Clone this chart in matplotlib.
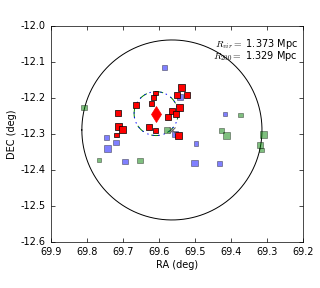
import matplotlib
matplotlib.use("Agg")
import matplotlib.pyplot as plt
import numpy as np

plt.style.use("classic")
plt.rcParams['mathtext.fontset'] = 'cm'
plt.rcParams['font.family'] = ['DejaVu Sans']

# Red members
red_ra = [69.538, 69.551, 69.521, 69.610, 69.616, 69.664, 69.620, 69.715, 69.544,
          69.565, 69.553, 69.576, 69.628, 69.610, 69.547, 69.711, 69.701, 69.718]
red_dec = [-12.170, -12.193, -12.191, -12.186, -12.198, -12.219, -12.216, -12.241, -12.226,
           -12.237, -12.244, -12.254, -12.280, -12.291, -12.305, -12.280, -12.287, -12.303]
red_size = [7, 6, 6, 4.5, 5, 6, 5, 6, 7, 6, 6, 6, 6, 5, 7, 7, 7, 4.5]

# Blue
blue_ra = [69.584, 69.542, 69.556, 69.417, 69.745, 69.719, 69.743, 69.694, 69.501, 69.433, 69.497]
blue_dec = [-12.115, -12.198, -12.300, -12.244, -12.310, -12.324, -12.341, -12.376, -12.381, -12.381, -12.326]
blue_size = [5.5, 6.5, 5.5, 3.5, 5.5, 5.5, 6.5, 5.5, 6.5, 5, 4.5]

# Green
green_ra = [69.808, 69.766, 69.653, 69.577, 69.426, 69.412, 69.310, 69.319, 69.315, 69.374]
green_dec = [-12.226, -12.372, -12.374, -12.289, -12.291, -12.304, -12.302, -12.331, -12.344, -12.247]
green_size = [5.5, 4.5, 5.5, 6.5, 5.5, 6.5, 6.5, 5.5, 4.5, 4.5]

bcg_ra, bcg_dec = 69.608, -12.2436
center_ra, center_dec = 69.564, -12.289
r_vir_deg = 0.25
r_small_deg = 0.061

fig = plt.figure(figsize=(3.2, 2.88), dpi=100)
ax = fig.add_axes([0.159, 0.160, 0.788, 0.750])

px2pt = 72.0 / 100.0
def s_of(sz):
    return (np.array(sz) * px2pt) ** 2

t = np.linspace(0, 2 * np.pi, 400)
ax.plot(center_ra + r_vir_deg * np.cos(t), center_dec + r_vir_deg * np.sin(t), '-', color='k', lw=0.7, zorder=1)
ax.plot(bcg_ra + r_small_deg * np.cos(t), bcg_dec + r_small_deg * np.sin(t), '--', color='g', lw=0.7, zorder=1)
ax.plot(bcg_ra + r_small_deg * np.cos(t), bcg_dec + r_small_deg * np.sin(t), ':', color='b', lw=0.7, zorder=1)

ax.scatter(blue_ra, blue_dec, s=s_of(blue_size), marker='s', c='b', alpha=0.5, edgecolors='k', linewidths=0.5, zorder=2)
ax.scatter(green_ra, green_dec, s=s_of(green_size), marker='s', c='g', alpha=0.5, edgecolors='k', linewidths=0.5, zorder=2)
ax.scatter(red_ra, red_dec, s=s_of(red_size), marker='s', c='r', edgecolors='k', linewidths=0.5, zorder=3)
ax.plot([bcg_ra], [bcg_dec], 'd', color='r', mec='r', ms=8, zorder=4)
ax.plot([center_ra], [center_dec], 'x', color='0.4', ms=4, mew=0.8, zorder=4)

ax.set_xlim(69.9, 69.2)
ax.set_ylim(-12.6, -12.0)
ax.set_xticks(np.arange(69.9, 69.15, -0.1))
ax.set_yticks(np.arange(-12.6, -11.95, 0.1))
ax.xaxis.set_major_formatter(matplotlib.ticker.FormatStrFormatter('%.1f'))
ax.yaxis.set_major_formatter(matplotlib.ticker.FormatStrFormatter('%.1f'))
ax.tick_params(labelsize=7, length=3, width=0.5)
for sp in ax.spines.values():
    sp.set_linewidth(0.5)
ax.set_xlabel('RA (deg)', fontsize=7, labelpad=2)
ax.set_ylabel('DEC (deg)', fontsize=7, labelpad=2)

ax.text(0.979, 0.918, r'$R_{vir}=$ 1.373 Mpc', transform=ax.transAxes, ha='right', va='center', fontsize=7)
ax.text(0.979, 0.860, r'$R_{200}=$ 1.329 Mpc', transform=ax.transAxes, ha='right', va='center', fontsize=7)

fig.savefig('out.png', dpi=100)
